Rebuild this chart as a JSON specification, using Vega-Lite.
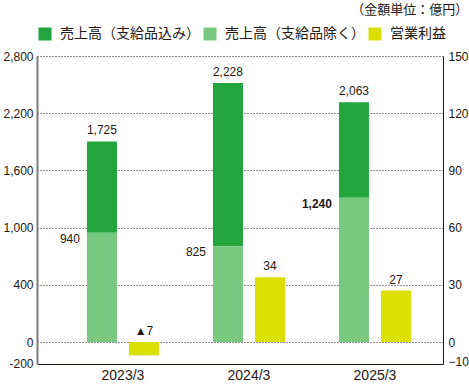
{
  "$schema": "https://vega.github.io/schema/vega-lite/v6.json",
  "width": 406,
  "height": 308,
  "autosize": {"type": "none"},
  "padding": {"left": 37, "top": 56, "right": 26, "bottom": 20},
  "background": "white",
  "config": {"view": {"stroke": null}, "font": "Liberation Sans", "text": {"color": "#231815"}},
  "title": {"text": "（金額単位：億円）", "anchor": "end", "font": "Noto Sans CJK JP", "fontSize": 13, "fontWeight": "normal", "color": "#231815", "offset": 10},
  "data": {"values": [
    {"year": "2023/3", "total": 1725, "excl": 940, "profit": -7},
    {"year": "2024/3", "total": 2228, "excl": 825, "profit": 34},
    {"year": "2025/3", "total": 2063, "excl": 1240, "profit": 27}
  ]},
  "encoding": {
    "x": {"field": "year", "type": "nominal", "scale": {"paddingInner": 0, "paddingOuter": 0.111, "align": 0.82},
      "axis": {"title": null, "labelAngle": 0, "ticks": false, "domainColor": "#231815", "labelFontSize": 14, "labelColor": "#231815", "labelPadding": 4}}
  },
  "layer": [
    {
      "layer": [
        {
          "mark": {"type": "bar"},
          "encoding": {
            "xOffset": {"datum": "sales", "scale": {"domain": ["sales", "profit"], "paddingInner": 0.2857, "paddingOuter": 0.643}},
            "y": {"field": "total", "type": "quantitative", "title": null,
              "scale": {"domain": [-188.6, 2460], "nice": false, "zero": false},
              "axis": {"orient": "left", "title": null, "values": [-185, 0, 492, 984, 1476, 1968, 2460],
                "labelExpr": "datum.value < 0 ? '-200' : ['0','400','1,000','1,600','2,200','2,800'][round(datum.value/492)]",
                "grid": false, "ticks": false, "domainColor": "#7d7d7d", "domainWidth": 2, "labelFontSize": 12, "labelColor": "#231815", "labelPadding": 4, "labelOverlap": false}},
            "y2": {"field": "excl"},
            "color": {"datum": "売上高（支給品込み）", "type": "nominal",
              "scale": {"domain": ["売上高（支給品込み）", "売上高（支給品除く）", "営業利益"], "range": ["#21a53c", "#78c97f", "#dce000"]},
              "legend": {"orient": "none", "legendX": 1, "legendY": -29, "direction": "horizontal", "title": null, "symbolType": "square", "symbolSize": 169, "symbolStrokeWidth": 0, "labelFont": "Noto Sans CJK JP", "labelFontSize": 14, "labelColor": "#231815", "labelOffset": 8, "columnPadding": 3, "labelLimit": 300}}
          }
        },
        {
          "mark": {"type": "bar"},
          "encoding": {
            "xOffset": {"datum": "sales"},
            "y": {"field": "excl", "type": "quantitative", "title": null},
            "y2": {"datum": 0},
            "color": {"datum": "売上高（支給品除く）", "type": "nominal"}
          }
        },
        {
          "mark": {"type": "text", "baseline": "bottom", "dy": -4, "fontSize": 12},
          "encoding": {
            "xOffset": {"datum": "sales"},
            "y": {"field": "total", "type": "quantitative", "title": null},
            "text": {"field": "total", "type": "quantitative", "format": ","}
          }
        },
        {
          "transform": [{"filter": "datum.year != '2025/3'"}],
          "mark": {"type": "text", "baseline": "top", "align": "right", "dx": -22, "dy": 1, "fontSize": 12},
          "encoding": {
            "xOffset": {"datum": "sales"},
            "y": {"field": "excl", "type": "quantitative", "title": null},
            "text": {"field": "excl", "type": "quantitative", "format": ","}
          }
        },
        {
          "transform": [{"filter": "datum.year == '2025/3'"}],
          "mark": {"type": "text", "baseline": "top", "align": "right", "dx": -22, "dy": 1, "fontSize": 12, "fontWeight": "bold"},
          "encoding": {
            "xOffset": {"datum": "sales"},
            "y": {"field": "excl", "type": "quantitative", "title": null},
            "text": {"field": "excl", "type": "quantitative", "format": ","}
          }
        }
      ]
    },
    {
      "layer": [
        {
          "mark": {"type": "bar"},
          "encoding": {
            "xOffset": {"datum": "profit"},
            "y": {"field": "profit", "type": "quantitative", "title": null,
              "scale": {"domain": [-11.5, 150], "nice": false, "zero": false},
              "axis": {"orient": "right", "title": null, "values": [-10, 0, 30, 60, 90, 120, 150], "grid": true, "gridDash": [1, 2], "gridColor": "#231815",
                "gridOpacity": {"condition": {"test": "datum.value < 0", "value": 0}, "value": 1},
                "ticks": false, "domainColor": "#231815", "labelFontSize": 12, "labelColor": "#231815", "labelPadding": 5, "labelOverlap": false}},
            "y2": {"datum": 0},
            "color": {"datum": "営業利益", "type": "nominal"}
          }
        },
        {
          "transform": [
            {"calculate": "datum.profit < 0 ? '▲' + abs(datum.profit) : '' + datum.profit", "as": "plabel"},
            {"calculate": "max(datum.profit, 0)", "as": "ppos"}
          ],
          "mark": {"type": "text", "baseline": "bottom", "dy": -4, "fontSize": 12},
          "encoding": {
            "xOffset": {"datum": "profit"},
            "y": {"field": "ppos", "type": "quantitative", "title": null},
            "text": {"field": "plabel", "type": "nominal"}
          }
        }
      ]
    }
  ],
  "resolve": {"scale": {"y": "independent"}}
}
